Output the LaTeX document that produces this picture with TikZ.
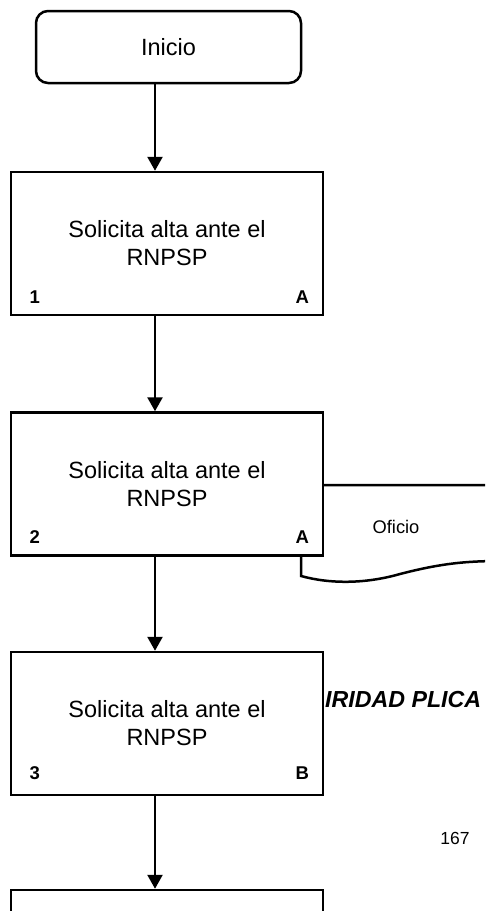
\documentclass[tikz,border=0pt]{standalone}
\usepackage{fontspec}
\setmainfont{Liberation Sans}
\usetikzlibrary{arrows.meta,calc}

\tikzset{
  line/.style={line width=2.5pt, draw=black},
  procbox/.style={line, fill=white, minimum width=312pt, minimum height=143pt,
    inner sep=0pt, align=center, font=\fontsize{23.5}{28}\selectfont},
  startbox/.style={line, fill=white, rounded corners=12pt, minimum width=265pt,
    minimum height=72pt, inner sep=0pt, font=\fontsize{23.5}{28}\selectfont},
  tag/.style={inner sep=0pt, font=\fontsize{18.5}{20}\selectfont\bfseries},
  flow/.style={line, -{Triangle[width=15pt,length=14pt]}},
}

\begin{document}
\begin{tikzpicture}[x=1pt,y=-1pt]
  \useasboundingbox (0,0) rectangle (485,911);
  \clip (0,0) rectangle (485,911);

  % heading text partly hidden behind step 3
  \node[anchor=west, inner sep=0pt, font=\fontsize{23.2}{25}\selectfont\bfseries\itshape]
    (head) at (325,699.5) {IRIDAD PLICA};

  % document symbol attached to step 2
  \draw[line, line join=miter] (500,485) -- (301,485) -- (301,576)
    .. controls (330,584) and (365,584) .. (400,574)
    .. controls (435,565) and (460,561) .. (500,561);
  \node[inner sep=0pt, font=\fontsize{18.3}{20}\selectfont] (doc) at (396,527) {Oficio};

  % page number
  \node[inner sep=0pt, font=\fontsize{17.5}{20}\selectfont] (page) at (455,838) {167};

  % flow nodes
  \node[startbox] (ini) at (168.5,47) {Inicio};
  \node[procbox] (b1) at (167,243.5) {Solicita alta ante el\\RNPSP};
  \node[procbox] (b2) at (167,484) {Solicita alta ante el\\RNPSP};
  \node[procbox] (b3) at (167,723.5) {Solicita alta ante el\\RNPSP};
  \node[procbox] (b4) at (167,961.5) {};

  % step numbers and responsible areas
  \node[tag] (n1) at ($(b1.south west)+(25,-19)$) {1};
  \node[tag] (r1) at ($(b1.south east)+(-22,-19)$) {A};
  \node[tag] (n2) at ($(b2.south west)+(25,-20)$) {2};
  \node[tag] (r2) at ($(b2.south east)+(-22,-20)$) {A};
  \node[tag] (n3) at ($(b3.south west)+(25,-23)$) {3};
  \node[tag] (r3) at ($(b3.south east)+(-22,-23)$) {B};

  % connectors
  \coordinate (ax) at (155,0);
  \draw[flow] (ini.south -| ax) -- (b1.north -| ax);
  \draw[flow] (b1.south -| ax) -- (b2.north -| ax);
  \draw[flow] (b2.south -| ax) -- (b3.north -| ax);
  \draw[flow] (b3.south -| ax) -- (b4.north -| ax);
\end{tikzpicture}
\end{document}
